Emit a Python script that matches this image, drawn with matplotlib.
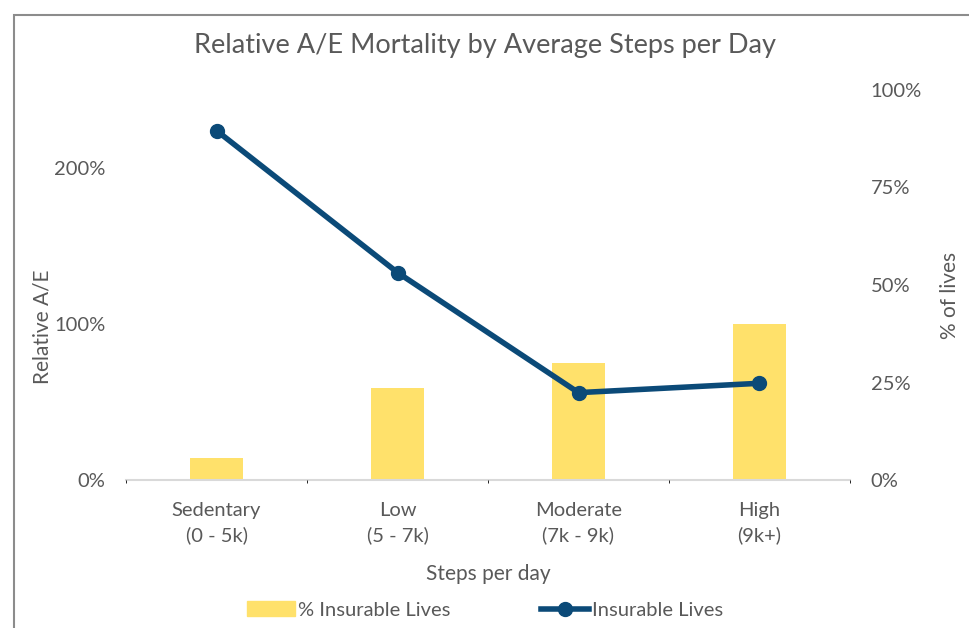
import matplotlib.pyplot as plt
from matplotlib.patches import Rectangle
from matplotlib.lines import Line2D
from matplotlib.ticker import PercentFormatter
import numpy as np

plt.rcParams['font.family'] = ['Lato', 'DejaVu Sans']

categories = ["Sedentary\n(0 - 5k)", "Low\n(5 - 7k)", "Moderate\n(7k - 9k)", "High\n(9k+)"]
pct_lives = [5.7, 23.6, 30.0, 40.0]          # % Insurable Lives (right axis)
relative_ae = [224, 133, 56, 62]              # Insurable Lives, relative A/E (left axis)

grey = "#595959"
yellow = "#FFE16B"
blue = "#0B4A78"
gridc = "#D9D9D9"

fig = plt.figure(figsize=(9.7, 6.28), dpi=100)
# outer chart border (left and top visible)
fig.patches.append(Rectangle((14 / 970, -0.1), 1.2, 1.088 - 7.5 / 628, transform=fig.transFigure,
                             fill=False, edgecolor="#8C8C8C", linewidth=1.5))

ax = fig.add_axes([126 / 970, 1 - 480 / 628, 724 / 970, 390 / 628])
ax2 = ax.twinx()

x = np.arange(len(categories))
ax2.bar(x, pct_lives, width=0.29, color=yellow, zorder=2)
ax.plot(x, relative_ae, color=blue, linewidth=4, marker="o", markersize=10, zorder=3)

ax.set_zorder(ax2.get_zorder() + 1)
ax.patch.set_visible(False)

ax.set_xlim(-0.5, 3.5)
ax.set_ylim(0, 250)
ax.set_yticks([0, 100, 200])
ax.yaxis.set_major_formatter(PercentFormatter(decimals=0))
ax2.set_ylim(0, 100)
ax2.set_yticks([0, 25, 50, 75, 100])
ax2.yaxis.set_major_formatter(PercentFormatter(decimals=0))

ax.set_xticks(x)
ax.set_xticklabels(categories, linespacing=1.5)
ax2.set_xticks(np.arange(-0.5, 4, 1), minor=True)
ax2.grid(True, which="minor", axis="x", color=gridc, linewidth=1.2, zorder=0)
ax2.tick_params(axis="x", which="both", length=0)

for a in (ax, ax2):
    for s in a.spines.values():
        s.set_visible(False)
    a.tick_params(length=0, labelsize=14.5, colors=grey)
ax2.spines["bottom"].set_visible(True)
ax2.spines["bottom"].set_color(gridc)
ax2.spines["bottom"].set_linewidth(1.5)
ax.tick_params(axis="y", pad=15)
ax2.tick_params(axis="y", pad=15)
ax.tick_params(axis="x", pad=16)

ax.set_ylabel("Relative A/E", fontsize=15, color=grey)
ax.yaxis.set_label_coords(-0.102, 0.392)
ax2.set_ylabel("% of lives", fontsize=15, color=grey)
ax2.yaxis.set_label_coords(1.124, 0.474)
ax.set_xlabel("Steps per day", fontsize=15, color=grey, labelpad=14)
fig.text(0.5, 1 - 45 / 628, "Relative A/E Mortality by Average Steps per Day",
         ha="center", va="center", fontsize=19.5, color=grey)

handles = [Rectangle((0, 0), 1, 1, color=yellow),
           Line2D([0], [0], color=blue, linewidth=4, marker="o", markersize=10)]
fig.legend(handles, ["% Insurable Lives", "Insurable Lives"], loc="center",
           bbox_to_anchor=(0.5, 1 - 610 / 628), ncol=2, frameon=False,
           fontsize=14.5, labelcolor=grey, columnspacing=4.5, handlelength=2.4, handletextpad=0.15)

fig.savefig("out.png", dpi=100)
